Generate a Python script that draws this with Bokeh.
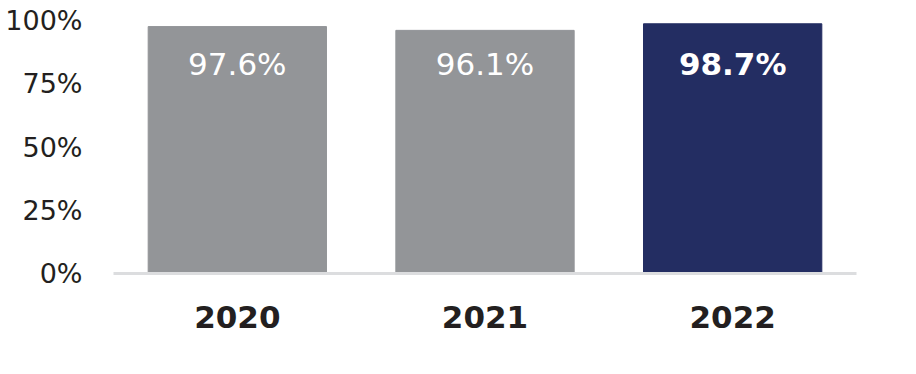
from bokeh.plotting import figure
from bokeh.models import ColumnDataSource, FactorRange, Range1d, PrintfTickFormatter, FixedTicker
from bokeh.embed import file_html
from bokeh.resources import INLINE
from bokeh.core.properties import value

years = ["2020", "2021", "2022"]
rates = [97.6, 96.1, 98.7]
rate_labels = ["97.6%", "96.1%", "98.7%"]
bar_colors = ["#939598", "#939598", "#232d62"]
label_weights = ["normal", "normal", "bold"]
y_ticks = [0, 25, 50, 75, 100]

LABEL_Y = 83
FONT = "DejaVu Sans"

src = ColumnDataSource(dict(
    year=years, rate=rates, label=rate_labels, color=bar_colors,
    weight=label_weights, ly=[LABEL_Y] * len(years),
))

p = figure(
    x_range=FactorRange(*years, range_padding=0), y_range=Range1d(0, 100),
    width=916, height=374, output_backend="svg", toolbar_location=None,
    min_border_left=113, min_border_right=60, min_border_top=20, min_border_bottom=101,
)
p.outline_line_color = None
p.grid.visible = False

p.vbar(x="year", top="rate", width=0.72, fill_color="color", line_color="color", source=src)
p.text(x="year", y="ly", text="label", source=src, text_align="center", text_baseline="middle",
       text_color="white", text_font=value(FONT), text_font_size=value("31px"),
       text_font_style="weight")

xa = p.xaxis[0]
xa.axis_line_color = "#dcdddf"
xa.axis_line_width = 3
xa.major_tick_line_color = None
xa.minor_tick_line_color = None
xa.major_label_text_font = FONT
xa.major_label_text_font_size = "31px"
xa.major_label_text_font_style = "bold"
xa.major_label_text_color = "#231f20"
xa.major_label_standoff = 26

ya = p.yaxis[0]
ya.axis_line_color = None
ya.major_tick_line_color = None
ya.minor_tick_line_color = None
ya.ticker = FixedTicker(ticks=y_ticks)
ya.formatter = PrintfTickFormatter(format="%d%%")
ya.major_label_text_font = FONT
ya.major_label_text_font_size = "27px"
ya.major_label_text_color = "#231f20"
ya.major_label_standoff = 25

open("out.html", "w").write(file_html(p, INLINE))
